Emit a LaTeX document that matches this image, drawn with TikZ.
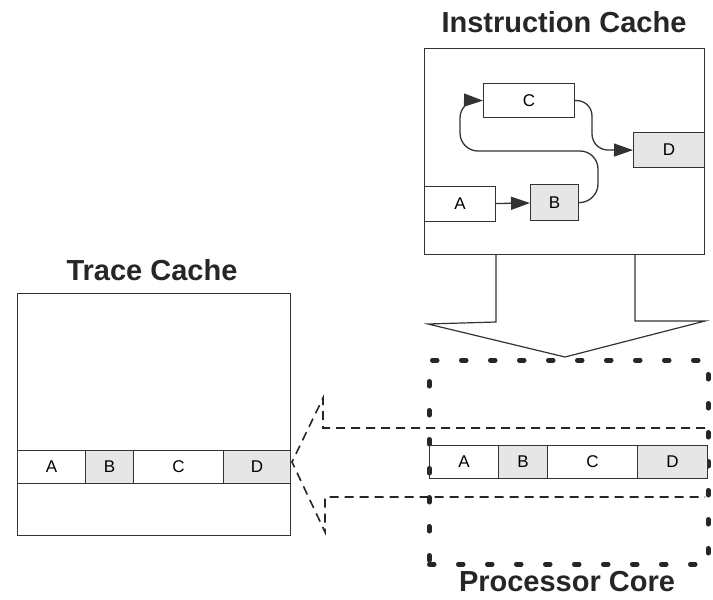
\documentclass[tikz,border=0pt]{standalone}
\usepackage{fontspec}
\setmainfont{Liberation Sans}
\usetikzlibrary{arrows.meta}
\definecolor{cellgray}{HTML}{E6E6E6}
\begin{document}
\begin{tikzpicture}[x=1pt,y=-1pt,
  box/.style={draw=black!80, line width=1.3pt, inner sep=0pt},
  cell/.style={draw=black!80, line width=1.2pt, inner sep=0pt, anchor=north west, font=\fontsize{17}{17}\selectfont},
  grey/.style={fill=cellgray},
  title/.style={font=\fontsize{29}{29}\selectfont\bfseries, text=black!85},
  conn/.style={draw=black!80, line width=1.3pt, -{Triangle[length=19pt,width=13pt]}},
  dashline/.style={draw=black!85, line width=1.6pt, dash pattern=on 9pt off 6pt},
  dotline/.style={draw=black!85, line width=4.5pt, line cap=round, dash pattern=on 5pt off 24pt}]
\useasboundingbox (0,0) rectangle (713,600);

% Titles
\node[title] (ictitle) at (564,22) {Instruction Cache};
\node[title] (tctitle) at (152,270) {Trace Cache};
\node[title] (pctitle) at (567,582) {Processor Core};

% Instruction cache box
\node[box, anchor=north west, minimum width=280pt, minimum height=206pt] (ic) at (424,48) {};
\node[cell] (iC) at (483,83) [minimum width=91pt, minimum height=34pt] {C};
\node[cell, grey] (iD) at (633,132) [minimum width=71pt, minimum height=35pt] {D};
\node[cell] (iA) at (424,186) [minimum width=71pt, minimum height=35pt] {A};
\node[cell, grey] (iB) at (530,184) [minimum width=48pt, minimum height=36pt] {B};

\draw[conn] (iA) -- (iB);
\draw[conn, rounded corners=18pt] (iB.east) -- (598,202) -- (598,151) -- (460,151) -- (460,100) -- (iC.west);
\draw[conn, rounded corners=16pt] (iC.east) -- (592,100) -- (592,150) -- (iD.west);

% Big down arrow
\coordinate (dl) at (496,254);
\coordinate (dr) at (635,254);
\draw[draw=black!80, line width=1.2pt] (dl) -- (496,322) -- (428,324) -- (565,357) -- (705,321) -- (635,321) -- (dr);

% Trace cache box
\node[box, anchor=north west, minimum width=273pt, minimum height=242pt] (tc) at (17,293) {};
\node[cell] (tA) at (17,450) [minimum width=68pt, minimum height=33pt] {A};
\node[cell, grey] (tB) at (85,450) [minimum width=48pt, minimum height=33pt] {B};
\node[cell] (tC) at (133,450) [minimum width=90pt, minimum height=33pt] {C};
\node[cell, grey] (tD) at (223,450) [minimum width=67pt, minimum height=33pt] {D};

% Processor core dotted box
\node[dotline, anchor=north west, minimum width=279pt, minimum height=204pt, inner sep=0pt] (pc) at (427,358) {};

% Processor core row
\node[cell] (pA) at (429,445) [minimum width=69pt, minimum height=33pt] {A};
\node[cell, grey] (pB) at (498,445) [minimum width=49pt, minimum height=33pt] {B};
\node[cell] (pC) at (547,445) [minimum width=90pt, minimum height=33pt] {C};
\node[cell, grey] (pD) at (637,445) [minimum width=70pt, minimum height=33pt] {D};

% Dashed left arrow
\coordinate (tip) at (292,462);
\coordinate (sr) at (705,428);
\coordinate (br) at (705,497);
\draw[dashline] (sr) -- (323,428) -- (323,398) -- (tip) -- (325,532) -- (325,497) -- (br);
\end{tikzpicture}
\end{document}
